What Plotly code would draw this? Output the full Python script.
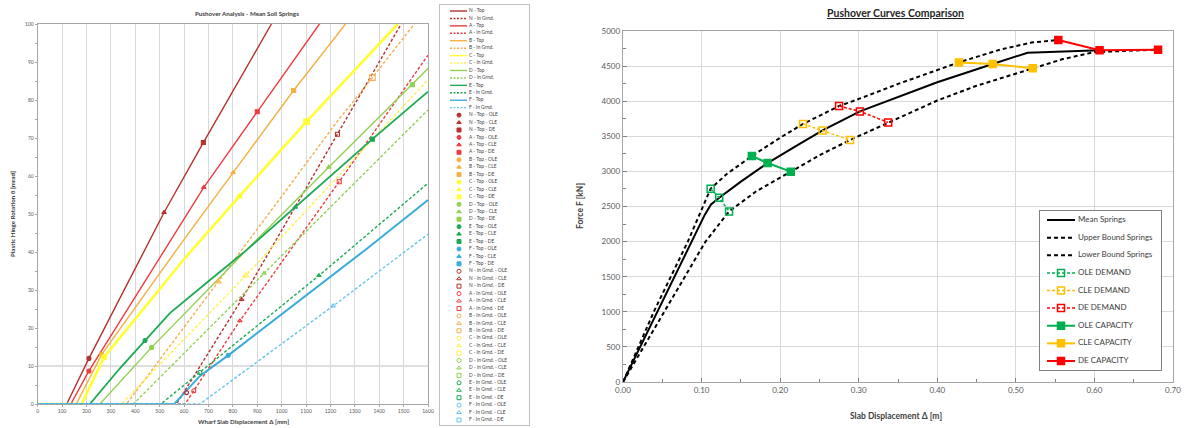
import plotly.graph_objects as go

W, H = 1184, 428
FONT = "Lato"

# ================= LEFT CHART DATA (Wharf slab displacement [mm] vs rotation [mrad]) =================
n_top_x = [0, 119, 210, 518, 679, 958]
n_top_y = [0, 0, 12.0, 50.4, 68.8, 100]
n_in_x = [0, 569, 836, 1229, 1490]
n_in_y = [0, 0, 27.5, 71.0, 100]
a_top_x = [0, 136, 210, 681, 900, 1155]
a_top_y = [0, 0, 8.7, 57.0, 76.9, 100]
a_in_x = [0, 604, 829, 1236, 1600]
a_in_y = [0, 0, 21.9, 58.5, 91.8]
b_top_x = [0, 158, 262, 583, 801, 1049, 1262]
b_top_y = [0, 0, 13.0, 41.8, 60.9, 82.5, 100]
b_in_x = [0, 364, 740, 1232, 1372, 1544]
b_in_y = [0, 0, 32.2, 74.7, 85.9, 100]
c_top_x = [0, 180, 272, 597, 826, 1102, 1476]
c_top_y = [0, 0, 12.3, 37.9, 54.6, 74.3, 100]
c_in_x = [0, 344, 853, 1600]
c_in_y = [0, 0, 33.8, 85.3]
d_top_x = [0, 255, 467, 856, 1193, 1536, 1600]
d_top_y = [0, 0, 14.9, 40.5, 62.3, 84.0, 88.3]
d_in_x = [0, 392, 928, 1600]
d_in_y = [0, 0, 34.4, 77.4]
e_top_x = [0, 214, 337, 440, 542, 700, 856, 1372, 1600]
e_top_y = [0, 0, 9.4, 16.7, 23.9, 32.3, 40.5, 69.7, 82.2]
e_in_x = [0, 505, 1153, 1600]
e_in_y = [0, 0, 33.8, 58.1]
f_top_x = [0, 560, 665, 781, 1348, 1600]
f_top_y = [0, 0, 7.4, 12.8, 40.8, 53.7]
f_in_x = [0, 665, 1211, 1600]
f_in_y = [0, 0, 25.8, 44.7]

# demand markers [OLE, CLE, DE]; None = not visible in the plotted range
n_top_mk_x = [210, 518, 679]
n_top_mk_y = [12.0, 50.4, 68.8]
a_top_mk_x = [210, 681, 900]
a_top_mk_y = [8.7, 57.0, 76.9]
b_top_mk_x = [262, 801, 1049]
b_top_mk_y = [13.0, 60.9, 82.5]
c_top_mk_x = [272, 826, 1102]
c_top_mk_y = [12.3, 54.6, 74.3]
d_top_mk_x = [467, 1193, 1536]
d_top_mk_y = [14.9, 62.3, 84.0]
e_top_mk_x = [440, 1056, 1372]
e_top_mk_y = [16.7, 51.8, 69.7]
f_top_mk_x = [781, None, None]
f_top_mk_y = [12.8, None, None]
n_in_mk_x = [610, 836, 1229]
n_in_mk_y = [3.0, 27.5, 71.0]
a_in_mk_x = [640, 829, 1236]
a_in_mk_y = [3.5, 21.9, 58.5]
b_in_mk_x = [None, 740, 1372]
b_in_mk_y = [None, 32.2, 85.9]
c_in_mk_x = [None, 853, None]
c_in_mk_y = [None, 33.8, None]
d_in_mk_x = [None, 928, None]
d_in_mk_y = [None, 34.4, None]
e_in_mk_x = [665, 1153, None]
e_in_mk_y = [8.3, 33.8, None]
f_in_mk_x = [None, 1211, None]
f_in_mk_y = [None, 25.8, None]

yield_rotation = 10  # reference line

rows = ["N", "A", "B", "C", "D", "E", "F"]
levels = ["OLE", "CLE", "DE"]
line_data = {
    ("N", "Top"): (n_top_x, n_top_y), ("N", "In Grnd."): (n_in_x, n_in_y),
    ("A", "Top"): (a_top_x, a_top_y), ("A", "In Grnd."): (a_in_x, a_in_y),
    ("B", "Top"): (b_top_x, b_top_y), ("B", "In Grnd."): (b_in_x, b_in_y),
    ("C", "Top"): (c_top_x, c_top_y), ("C", "In Grnd."): (c_in_x, c_in_y),
    ("D", "Top"): (d_top_x, d_top_y), ("D", "In Grnd."): (d_in_x, d_in_y),
    ("E", "Top"): (e_top_x, e_top_y), ("E", "In Grnd."): (e_in_x, e_in_y),
    ("F", "Top"): (f_top_x, f_top_y), ("F", "In Grnd."): (f_in_x, f_in_y),
}
marker_data = {
    ("N", "Top"): (n_top_mk_x, n_top_mk_y), ("N", "In Grnd."): (n_in_mk_x, n_in_mk_y),
    ("A", "Top"): (a_top_mk_x, a_top_mk_y), ("A", "In Grnd."): (a_in_mk_x, a_in_mk_y),
    ("B", "Top"): (b_top_mk_x, b_top_mk_y), ("B", "In Grnd."): (b_in_mk_x, b_in_mk_y),
    ("C", "Top"): (c_top_mk_x, c_top_mk_y), ("C", "In Grnd."): (c_in_mk_x, c_in_mk_y),
    ("D", "Top"): (d_top_mk_x, d_top_mk_y), ("D", "In Grnd."): (d_in_mk_x, d_in_mk_y),
    ("E", "Top"): (e_top_mk_x, e_top_mk_y), ("E", "In Grnd."): (e_in_mk_x, e_in_mk_y),
    ("F", "Top"): (f_top_mk_x, f_top_mk_y), ("F", "In Grnd."): (f_in_mk_x, f_in_mk_y),
}
colors = {
    ("N", "Top"): "#B5302E", ("N", "In Grnd."): "#B5302E",
    ("A", "Top"): "#EE3B40", ("A", "In Grnd."): "#EE3B40",
    ("B", "Top"): "#F5B041", ("B", "In Grnd."): "#F7AD4C",
    ("C", "Top"): "#FFFF33", ("C", "In Grnd."): "#FFF04D",
    ("D", "Top"): "#92D050", ("D", "In Grnd."): "#92D050",
    ("E", "Top"): "#1DAA55", ("E", "In Grnd."): "#1DAA55",
    ("F", "Top"): "#3AACDA", ("F", "In Grnd."): "#62C6EE",
}
widths = {("C", "Top"): 2.6, ("E", "Top"): 1.8, ("F", "Top"): 2.0}
top_symbols = ["circle", "triangle-up", "square"]
in_symbols = ["circle-open", "triangle-up-open", "square-open"]

# ================= RIGHT CHART DATA (Slab displacement [m] vs force [kN]) =================
mean_x = [0, 0.052, 0.104, 0.112, 0.1225, 0.15, 0.184, 0.22, 0.254, 0.3015, 0.35, 0.40, 0.4705, 0.515, 0.6065]
mean_y = [0, 1200, 2380, 2530, 2625, 2855, 3119, 3360, 3584, 3855, 4060, 4270, 4530, 4691, 4725]
upper_x = [0, 0.04, 0.0825, 0.1115, 0.1325, 0.164, 0.2015, 0.229, 0.275, 0.301, 0.351, 0.40, 0.4275, 0.48, 0.52, 0.554]
upper_y = [0, 1020, 2000, 2753, 2967, 3219, 3490, 3675, 3931, 4036, 4250, 4450, 4553, 4735, 4835, 4872]
lower_x = [0, 0.06, 0.105, 0.135, 0.17, 0.2135, 0.25, 0.289, 0.3375, 0.40, 0.45, 0.5215, 0.56, 0.60, 0.681]
lower_y = [0, 1150, 2000, 2430, 2720, 2996, 3230, 3447, 3698, 4010, 4220, 4468, 4600, 4700, 4734]
ole_dem_x = [0.1115, 0.1225, 0.135]
ole_dem_y = [2753, 2625, 2430]
cle_dem_x = [0.229, 0.254, 0.289]
cle_dem_y = [3675, 3584, 3447]
de_dem_x = [0.275, 0.3015, 0.3375]
de_dem_y = [3931, 3855, 3698]
ole_cap_x = [0.164, 0.184, 0.2135]
ole_cap_y = [3219, 3119, 2996]
cle_cap_x = [0.4275, 0.4705, 0.5215]
cle_cap_y = [4553, 4530, 4468]
de_cap_x = [0.554, 0.6065, 0.681]
de_cap_y = [4872, 4725, 4734]
x2_ticks = [0, 0.1, 0.2, 0.3, 0.4, 0.5, 0.6, 0.7]
x2_ticklabels = ["0.00", "0.10", "0.20", "0.30", "0.40", "0.50", "0.60", "0.70"]

GREEN, GOLD, RED = "#00B050", "#FFC000", "#FF0000"


def px_x(p):
    """page pixel -> paper fraction"""
    return p / W


def px_y(p):
    return 1 - p / H


fig = go.Figure()

# ---------- left chart lines ----------
for r in rows:
    for kind in ["Top", "In Grnd."]:
        xs, ys = line_data[(r, kind)]
        fig.add_trace(go.Scatter(
            x=xs, y=ys, mode="lines", xaxis="x", yaxis="y", showlegend=False, hoverinfo="skip",
            line=dict(color=colors[(r, kind)], width=widths.get((r, kind), 1.4),
                      dash="solid" if kind == "Top" else "3px,2px")))
# ---------- left chart markers ----------
for kind, syms in [("Top", top_symbols), ("In Grnd.", in_symbols)]:
    for r in rows:
        mx, my = marker_data[(r, kind)]
        for i in range(3):
            if mx[i] is None:
                continue
            big = r == "C" or (r == "B" and kind == "In Grnd.")
            fig.add_trace(go.Scatter(
                x=[mx[i]], y=[my[i]], mode="markers", xaxis="x", yaxis="y", showlegend=False,
                hoverinfo="skip",
                marker=dict(symbol=syms[i], size=5.5 if big else 4, color=colors[(r, kind)],
                            line=dict(width=1.1, color=colors[(r, kind)]))))

# ---------- left custom legend (axis 3) ----------
leg_labels, leg_specs = [], []
for r in rows:
    for kind in ["Top", "In Grnd."]:
        leg_labels.append(f"{r} - {kind}")
        leg_specs.append(("line", r, kind, None))
for kind, syms in [("Top", top_symbols), ("In Grnd.", in_symbols)]:
    for r in rows:
        for i, lv in enumerate(levels):
            leg_labels.append(f"{r} - {kind} - {lv}")
            leg_specs.append(("marker", r, kind, syms[i]))

n_leg = len(leg_labels)
leg_top, leg_bot, first_item, last_item = 5, 425, 11, 420
step = (last_item - first_item) / (n_leg - 1)

for idx, (typ, r, kind, sym) in enumerate(leg_specs):
    c = colors[(r, kind)]
    if typ == "line":
        fig.add_trace(go.Scatter(
            x=[450, 467], y=[idx, idx], mode="lines", xaxis="x3", yaxis="y3", showlegend=False,
            hoverinfo="skip", line=dict(color=c, width=1.4, dash="solid" if kind == "Top" else "2px,1.5px")))
    else:
        fig.add_trace(go.Scatter(
            x=[459], y=[idx], mode="markers", xaxis="x3", yaxis="y3", showlegend=False, hoverinfo="skip",
            marker=dict(symbol=sym, size=4, color=c, line=dict(width=1, color=c))))
fig.add_trace(go.Scatter(
    x=[469] * n_leg, y=list(range(n_leg)), text=leg_labels, mode="text",
    textposition="middle right", xaxis="x3", yaxis="y3", showlegend=False, hoverinfo="skip",
    textfont=dict(family=FONT, size=4.8, color="#404040"), cliponaxis=False))

# ---------- right chart ----------
right_series = [
    ("Mean Springs", mean_x, mean_y, dict(color="#000000", width=2), None),
    ("Upper Bound Springs", upper_x, upper_y, dict(color="#000000", width=2, dash="4px,3px"), None),
    ("Lower Bound Springs", lower_x, lower_y, dict(color="#000000", width=2, dash="4px,3px"), None),
    ("OLE DEMAND", ole_dem_x, ole_dem_y, dict(color=GREEN, width=1.5, dash="3px,2px"), "square-open"),
    ("CLE DEMAND", cle_dem_x, cle_dem_y, dict(color=GOLD, width=1.5, dash="3px,2px"), "square-open"),
    ("DE DEMAND", de_dem_x, de_dem_y, dict(color=RED, width=1.5, dash="3px,2px"), "square-open"),
    ("OLE CAPACITY", ole_cap_x, ole_cap_y, dict(color=GREEN, width=2), "square"),
    ("CLE CAPACITY", cle_cap_x, cle_cap_y, dict(color=GOLD, width=2), "square"),
    ("DE CAPACITY", de_cap_x, de_cap_y, dict(color=RED, width=2), "square"),
]
for name, xs, ys, ln, sym in right_series:
    fig.add_trace(go.Scatter(
        x=xs, y=ys, name=name, xaxis="x2", yaxis="y2", showlegend=False, hoverinfo="skip",
        mode="lines" if sym is None else "lines+markers", line=ln,
        marker=None if sym is None else dict(symbol=sym, size=7, color=ln["color"],
                                             line=dict(width=1.5, color=ln["color"]))))

# ---------- right custom legend (axis 4) ----------
for idx, (name, xs, ys, ln, sym) in enumerate(right_series):
    fig.add_trace(go.Scatter(
        x=[1047, 1075], y=[idx, idx], mode="lines", xaxis="x4", yaxis="y4", showlegend=False,
        hoverinfo="skip", line=ln))
    if sym is not None:
        fig.add_trace(go.Scatter(
            x=[1061], y=[idx], mode="markers", xaxis="x4", yaxis="y4", showlegend=False, hoverinfo="skip",
            marker=dict(symbol=sym, size=7, color=ln["color"], line=dict(width=1.5, color=ln["color"]))))
fig.add_trace(go.Scatter(
    x=[1078] * len(right_series), y=list(range(len(right_series))), text=[s[0] for s in right_series],
    mode="text", textposition="middle right", xaxis="x4", yaxis="y4", showlegend=False, hoverinfo="skip",
    textfont=dict(family=FONT, size=8, color="#404040"), cliponaxis=False))

AX = "#A6A6A6"
GRID = "#D9D9D9"
TICKC = "#595959"

fig.update_layout(
    template="none",
    width=W, height=H, margin=dict(l=0, r=0, t=0, b=0, autoexpand=False),
    paper_bgcolor="white", plot_bgcolor="white", font=dict(family=FONT, color="#404040"),
    showlegend=False,
    xaxis=dict(domain=[px_x(37.7), px_x(428)], range=[0, 1600], tick0=0, dtick=100, tickformat="d",
               showgrid=True, gridcolor=GRID, gridwidth=1, zeroline=False, showline=True, linecolor=AX,
               mirror=True, ticks="outside", ticklen=2, tickcolor=AX, tickfont=dict(size=5, color=TICKC),
               anchor="y", automargin=False, ticklabeloverflow="allow"),
    yaxis=dict(domain=[px_y(404), px_y(24)], range=[0, 100], dtick=10, showgrid=False, zeroline=False,
               showline=True, linecolor=AX, mirror=True, ticks="outside", ticklen=2, tickcolor=AX,
               tickfont=dict(size=5, color=TICKC), minor=dict(dtick=5, ticks="outside", ticklen=1.5, tickcolor=AX),
               anchor="x", automargin=False, ticklabeloverflow="allow"),
    xaxis2=dict(domain=[px_x(623), px_x(1173)], range=[0, 0.7], tickmode="array",
                tickvals=x2_ticks, ticktext=x2_ticklabels,
                showgrid=True, gridcolor=GRID, zeroline=False, showline=True, linecolor=AX, linewidth=1.3,
                mirror=True, ticks="inside", ticklen=4, tickcolor="#808080",
                minor=dict(dtick=0.05, ticks="inside", ticklen=3, tickcolor="#808080", showgrid=False),
                tickfont=dict(size=8, color=TICKC), anchor="y2", automargin=False, ticklabeloverflow="allow"),
    yaxis2=dict(domain=[px_y(382), px_y(31)], range=[0, 5000], dtick=500, tickformat="d",
                showgrid=True, gridcolor=GRID, zeroline=False, showline=True, linecolor=AX, linewidth=1.3,
                mirror=True, ticks="inside", ticklen=4, tickcolor="#808080",
                minor=dict(dtick=250, ticks="inside", ticklen=3, tickcolor="#808080"),
                tickfont=dict(size=8, color=TICKC), anchor="x2", automargin=False, ticklabeloverflow="allow"),
    xaxis3=dict(domain=[px_x(440), px_x(529)], range=[440, 529], showgrid=False, zeroline=False,
                showticklabels=False, ticks="", showline=True, mirror=True, linecolor="#BFBFBF", anchor="y3",
                automargin=False),
    yaxis3=dict(domain=[px_y(leg_bot), px_y(leg_top)],
                range=[(n_leg - 1) + (leg_bot - last_item) / step, -(first_item - leg_top) / step],
                showgrid=False, zeroline=False, showticklabels=False, ticks="", showline=True, mirror=True,
                linecolor="#BFBFBF", anchor="x3", automargin=False),
    xaxis4=dict(domain=[px_x(1040), px_x(1161)], range=[1040, 1161], showgrid=False, zeroline=False,
                showticklabels=False, ticks="", showline=True, mirror=True, linecolor="#808080", linewidth=1.3,
                anchor="y4", automargin=False),
    yaxis4=dict(domain=[px_y(370), px_y(211)], range=[8 + 9 / 17.6, -9 / 17.6], showgrid=False, zeroline=False,
                showticklabels=False, ticks="", showline=True, mirror=True, linecolor="#808080", linewidth=1.3,
                anchor="x4", automargin=False),
    shapes=[dict(type="line", xref="x", yref="y", x0=0, x1=1600, y0=yield_rotation, y1=yield_rotation,
                 line=dict(color="#BFBFBF", width=1), layer="below")],
    annotations=[
        dict(text="<b>Pushover Analysis - Mean Soil Springs</b>", x=px_x(247), y=px_y(13), xref="paper",
             yref="paper", showarrow=False, font=dict(size=6.2, color="#404040"), xanchor="center", yanchor="middle"),
        dict(text="<b>Wharf Slab Displacement Δ [mm]</b>", x=px_x(243), y=px_y(421), xref="paper",
             yref="paper", showarrow=False, font=dict(size=6.2, color="#404040"), xanchor="center", yanchor="middle"),
        dict(text="<b>Plastic Hinge Rotation θ [mrad]</b>", x=px_x(12), y=px_y(214), xref="paper",
             yref="paper", showarrow=False, textangle=-90, font=dict(size=6.2, color="#404040"),
             xanchor="center", yanchor="middle"),
        dict(text="<b><u>Pushover Curves Comparison</u></b>", x=px_x(895), y=px_y(13), xref="paper",
             yref="paper", showarrow=False, font=dict(size=10.5, color="#262626"), xanchor="center", yanchor="middle"),
        dict(text="<b>Slab Displacement Δ [m]</b>", x=px_x(896), y=px_y(416), xref="paper",
             yref="paper", showarrow=False, font=dict(size=8.5, color="#404040"), xanchor="center", yanchor="middle"),
        dict(text="<b>Force F [kN]</b>", x=px_x(580), y=px_y(206), xref="paper",
             yref="paper", showarrow=False, textangle=-90, font=dict(size=8.5, color="#404040"),
             xanchor="center", yanchor="middle"),
    ],
)

# remove the default 8 px page margin so the 1184x428 figure fills the window exactly
fig.write_html("out.html",
               config={"displayModeBar": False, "staticPlot": True},
               post_script="document.body.style.margin='0';document.body.style.overflow='hidden';")
